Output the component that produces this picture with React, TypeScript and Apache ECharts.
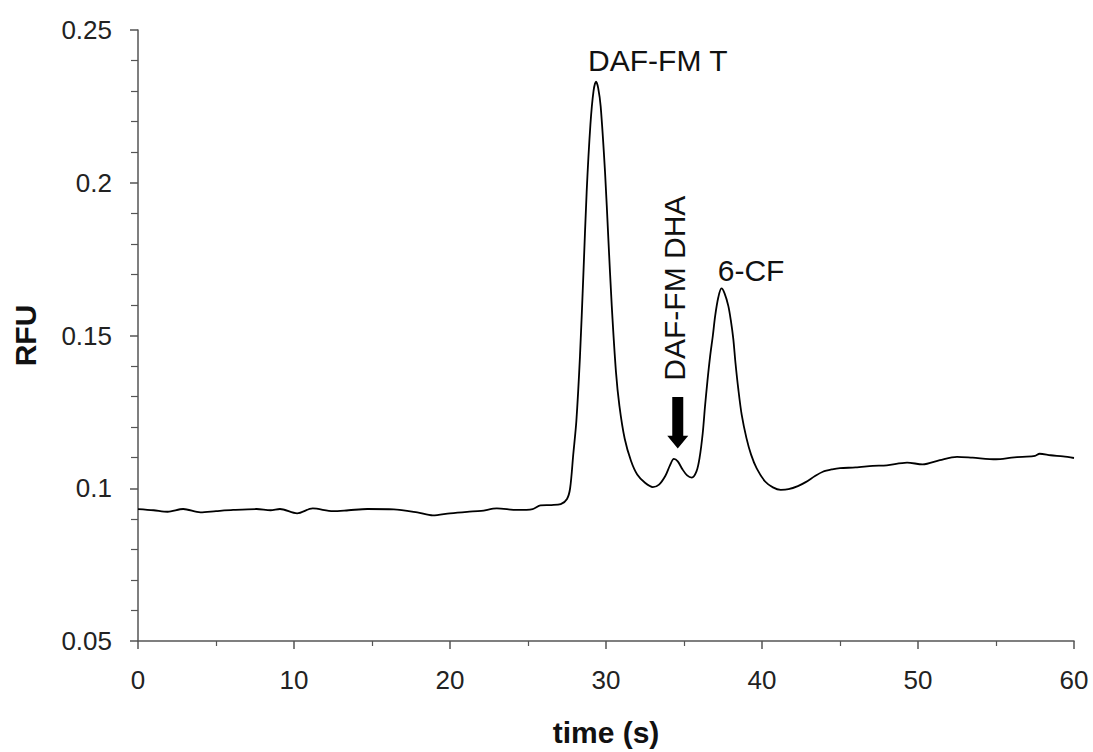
import React, { useEffect, useRef } from "react";
import * as echarts from "echarts";

const timeS: number[] = [
  0, 1, 1.9, 2.9, 4, 5, 6.1, 7.6, 8.5, 9.1, 10.2, 11.2, 12.5, 13.5, 14.7, 16.4, 17.9, 18.9, 20, 21.1, 22, 23, 24.3, 25.3,
  25.8, 26.5, 27.1, 27.5, 27.7, 27.9, 28.1, 28.33, 28.55, 28.76, 29.0, 29.2, 29.36, 29.5, 29.66, 29.94, 30.15, 30.37,
  30.64, 30.86, 31.2, 31.6, 32.0, 32.5, 33.0, 33.4, 33.8, 34.1, 34.35, 34.6, 34.9, 35.2, 35.5, 35.8, 36.0, 36.2, 36.35,
  36.5, 36.67, 36.85, 37.0, 37.2, 37.4, 37.6, 37.84, 38.0, 38.16, 38.3, 38.48, 38.7, 39.0, 39.3, 39.66, 40.2, 40.7, 41.2,
  41.7, 42.3, 42.8, 43.4, 43.9, 44.5, 45.0, 46.0, 47.1, 48.0, 49.3, 50.3, 51.4, 52.5, 53.5, 55.0, 56.0, 56.7, 57.5, 57.8,
  58.5, 59.3, 60,
];

const rfu: number[] = [
  0.0932, 0.0928, 0.0923, 0.0932, 0.0921, 0.0925, 0.0929, 0.0932, 0.0928, 0.0932, 0.0918, 0.0934, 0.0925, 0.0928, 0.0932,
  0.0931, 0.0921, 0.0911, 0.0918, 0.0923, 0.0926, 0.0934, 0.0929, 0.0932, 0.0944, 0.0945, 0.0948, 0.0965, 0.1, 0.111,
  0.122, 0.143, 0.17, 0.197, 0.219, 0.23, 0.2331, 0.231, 0.2249, 0.2033, 0.1817, 0.1596, 0.138, 0.127, 0.1162, 0.109,
  0.1045, 0.1018, 0.1004, 0.1012, 0.104, 0.1075, 0.1096, 0.1088, 0.1062, 0.1042, 0.1035, 0.1055, 0.11, 0.118, 0.127,
  0.135, 0.143, 0.15, 0.1565, 0.1625, 0.1654, 0.1638, 0.1597, 0.155, 0.1489, 0.141, 0.1325, 0.124, 0.1165, 0.111, 0.1065,
  0.1022, 0.1003, 0.0995, 0.0997, 0.1007, 0.102, 0.104, 0.1054, 0.1062, 0.1066, 0.1068, 0.1073, 0.1075, 0.1084, 0.1078,
  0.1092, 0.1103, 0.11, 0.1095, 0.11, 0.1103, 0.1106, 0.1113, 0.1108, 0.1104, 0.1099,
];

const xTicks = { min: 0, max: 60, interval: 10 };
const yTicks = { min: 0.05, max: 0.25, interval: 0.05 };

const peakLabels = [
  { text: "DAF-FM T", x: 28.85, y: 0.2399, align: "left", rotate: 0 },
  { text: "6-CF", x: 39.3, y: 0.1714, align: "center", rotate: 0 },
  { text: "DAF-FM DHA", x: 34.36, y: 0.1655, align: "center", rotate: 90 },
];
const arrowAt = { x: 34.6, top: 0.1299, headBase: 0.1172, tip: 0.113 };

const FONT = "'Liberation Sans', Arial, Helvetica, sans-serif";

export default function App() {
  const ref = useRef<HTMLDivElement>(null);
  useEffect(() => {
    if (!ref.current) return;
    const chart = echarts.init(ref.current, undefined, { renderer: "svg" });
    const axisCommon = {
      axisLine: { show: true, lineStyle: { color: "#555", width: 1.5 } },
      axisTick: { show: true, inside: false, length: 8, lineStyle: { color: "#555", width: 1.5 } },
      minorTick: { show: true, length: 6, lineStyle: { color: "#555", width: 1.2 } },
      splitLine: { show: false },
      minorSplitLine: { show: false },
    };
    chart.setOption({
      animation: false,
      backgroundColor: "#fff",
      grid: { left: 138, right: 19, top: 30, bottom: 108, containLabel: false },
      xAxis: {
        type: "value",
        min: xTicks.min,
        max: xTicks.max,
        interval: xTicks.interval,
        ...axisCommon,
        minorTick: { ...axisCommon.minorTick, splitNumber: 2, length: 5 },
        axisLabel: { fontSize: 26, color: "#222", margin: 26, fontFamily: FONT },
        name: "time (s)",
        nameLocation: "middle",
        nameGap: 76,
        nameTextStyle: { fontSize: 30, fontWeight: "bold", color: "#111", fontFamily: FONT },
      },
      yAxis: {
        type: "value",
        min: yTicks.min,
        max: yTicks.max,
        interval: yTicks.interval,
        ...axisCommon,
        minorTick: { ...axisCommon.minorTick, splitNumber: 5, length: 7 },
        axisLabel: {
          fontSize: 26,
          color: "#222",
          margin: 26,
          fontFamily: FONT,
          formatter: (v: number) => String(Number(v.toFixed(2))),
        },
        name: "RFU",
        nameLocation: "middle",
        nameRotate: 90,
        nameGap: 98,
        nameTextStyle: { fontSize: 30, fontWeight: "bold", color: "#111", fontFamily: FONT },
      },
      series: [
        {
          type: "line",
          data: timeS.map((t, i) => [t, rfu[i]]),
          showSymbol: false,
          symbol: "none",
          smooth: 0.3,
          lineStyle: { color: "#000", width: 1.8 },
        },
      ],
    });

    const px = (x: number, y: number) =>
      chart.convertToPixel({ xAxisIndex: 0, yAxisIndex: 0 }, [x, y]) as number[];

    const graphics: any[] = peakLabels.map((l) => {
      const p = px(l.x, l.y);
      return {
        type: "text",
        x: p[0],
        y: p[1],
        rotation: (l.rotate * Math.PI) / 180,
        style: {
          text: l.text,
          fontSize: 30,
          fontFamily: FONT,
          fill: "#111",
          align: l.align,
          verticalAlign: "middle",
        },
      };
    });
    const top = px(arrowAt.x, arrowAt.top);
    const base = px(arrowAt.x, arrowAt.headBase);
    const tip = px(arrowAt.x, arrowAt.tip);
    const sw = 5.5;
    const hw = 10.5;
    graphics.push({
      type: "polygon",
      shape: {
        points: [
          [top[0] - sw, top[1]],
          [top[0] + sw, top[1]],
          [base[0] + sw, base[1]],
          [base[0] + hw, base[1]],
          [tip[0], tip[1]],
          [base[0] - hw, base[1]],
          [base[0] - sw, base[1]],
        ],
      },
      style: { fill: "#000" },
    });
    chart.setOption({ graphic: graphics });

    return () => chart.dispose();
  }, []);
  return (
    <div
      ref={ref}
      style={{ position: "fixed", left: 0, top: 0, width: 1093, height: 752, background: "#fff" }}
    />
  );
}
